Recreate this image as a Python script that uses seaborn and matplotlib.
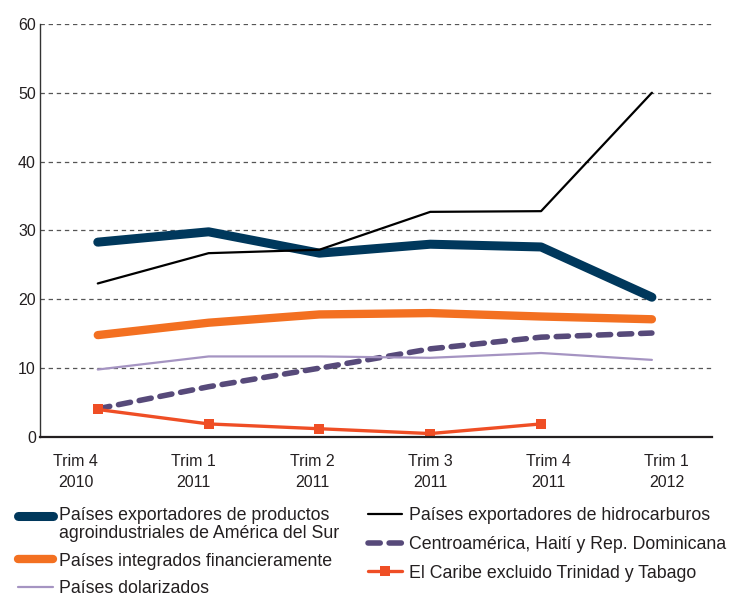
import numpy as np
import pandas as pd
import matplotlib
matplotlib.use("Agg")
import matplotlib.pyplot as plt
from matplotlib.legend_handler import HandlerLine2D
import seaborn as sns

trimestres = ["Trim 4\n2010", "Trim 1\n2011", "Trim 2\n2011", "Trim 3\n2011", "Trim 4\n2011", "Trim 1\n2012"]

agro = [28.3, 29.8, 26.7, 28.0, 27.6, 20.3]
hidrocarburos = [22.3, 26.7, 27.2, 32.7, 32.8, 50.0]
integrados = [14.8, 16.6, 17.8, 18.0, 17.5, 17.1]
centroamerica = [4.1, 7.3, 10.0, 12.8, 14.5, 15.1]
dolarizados = [9.8, 11.7, 11.7, 11.5, 12.2, 11.2]
caribe = [4.0, 1.9, 1.2, 0.5, 1.9, np.nan]

x = np.arange(len(trimestres))


class TopLineHandler(HandlerLine2D):
    # moves the legend line up so it sits next to the first text line
    def __init__(self, shift, **kw):
        super().__init__(**kw)
        self.shift = shift

    def create_artists(self, legend, orig_handle, xdescent, ydescent, width, height, fontsize, trans):
        return super().create_artists(legend, orig_handle, xdescent, ydescent - 2 * self.shift,
                                      width, height, fontsize, trans)


sns.set_theme(style="white")
plt.rcParams["font.family"] = ["Liberation Sans", "DejaVu Sans"]

fig = plt.figure(figsize=(7.3, 5.97), dpi=100)
ax = fig.add_axes([0.055, 0.268, 0.92, 0.692])

ax.grid(axis="y", linestyle=(0, (3.5, 3)), color="#555555", linewidth=0.9)
ax.set_axisbelow(True)

lines = {}
lines["agro"] = sns.lineplot(x=x, y=agro, ax=ax, color="#00385C", linewidth=6.5,
                             solid_capstyle="round",
                             label="Países exportadores de productos\nagroindustriales de América del Sur").lines[-1]
lines["hidro"] = sns.lineplot(x=x, y=hidrocarburos, ax=ax, color="black", linewidth=1.6,
                              label="Países exportadores de hidrocarburos").lines[-1]
lines["integ"] = sns.lineplot(x=x, y=integrados, ax=ax, color="#F37021", linewidth=6,
                              solid_capstyle="round", label="Países integrados financieramente").lines[-1]
lines["centro"] = sns.lineplot(x=x, y=centroamerica, ax=ax, color="#574A7A", linewidth=4,
                               label="Centroamérica, Haití y Rep. Dominicana").lines[-1]
lines["centro"].set_dashes((2.2, 1.6))
lines["centro"].set_dash_capstyle("round")
lines["dolar"] = sns.lineplot(x=x, y=dolarizados, ax=ax, color="#A594C2", linewidth=1.6,
                              label="Países dolarizados").lines[-1]
lines["caribe"] = sns.lineplot(x=x, y=caribe, ax=ax, color="#EF4E25", linewidth=2.4,
                               marker="s", markersize=7, markeredgewidth=0,
                               label="El Caribe excluido Trinidad y Tabago").lines[-1]
lines["hidro"].set_zorder(3)

ax.legend_.remove()

ax.set_xlim(-0.52, 5.54)
ax.set_ylim(0, 60)
ax.set_yticks(range(0, 61, 10))
# labels sit a bit off the points, as in the source
ax.set_xticks(-0.2 + 1.067 * x)
ax.set_xticklabels(trimestres)
ax.tick_params(axis="both", length=0, labelsize=11.5, colors="#231F20")
ax.tick_params(axis="x", pad=12)
ax.tick_params(axis="y", pad=3)
for lab in ax.get_xticklabels():
    lab.set_linespacing(1.55)

for side in ["top", "right"]:
    ax.spines[side].set_visible(False)
ax.spines["left"].set_color("#333333")
ax.spines["left"].set_linewidth(1)
ax.spines["bottom"].set_color("#231F20")
ax.spines["bottom"].set_linewidth(1.6)

leg_kw = dict(frameon=False, fontsize=12.8, handlelength=1.95, handletextpad=0.35,
              borderaxespad=0, labelcolor="#231F20", loc="upper left")
col1 = [lines["agro"], lines["integ"], lines["dolar"]]
col2 = [lines["hidro"], lines["centro"], lines["caribe"]]
leg1 = fig.legend(col1, [l.get_label() for l in col1], labelspacing=0.6,
                  bbox_to_anchor=(0.015, 0.162),
                  handler_map={lines["agro"]: TopLineHandler(6.8)}, **leg_kw)
leg2 = fig.legend(col2, [l.get_label() for l in col2], labelspacing=0.65,
                  bbox_to_anchor=(0.494, 0.162), **leg_kw)
for t in leg1.texts:
    t.set_linespacing(1.05)

fig.savefig("out.png", dpi=100)
